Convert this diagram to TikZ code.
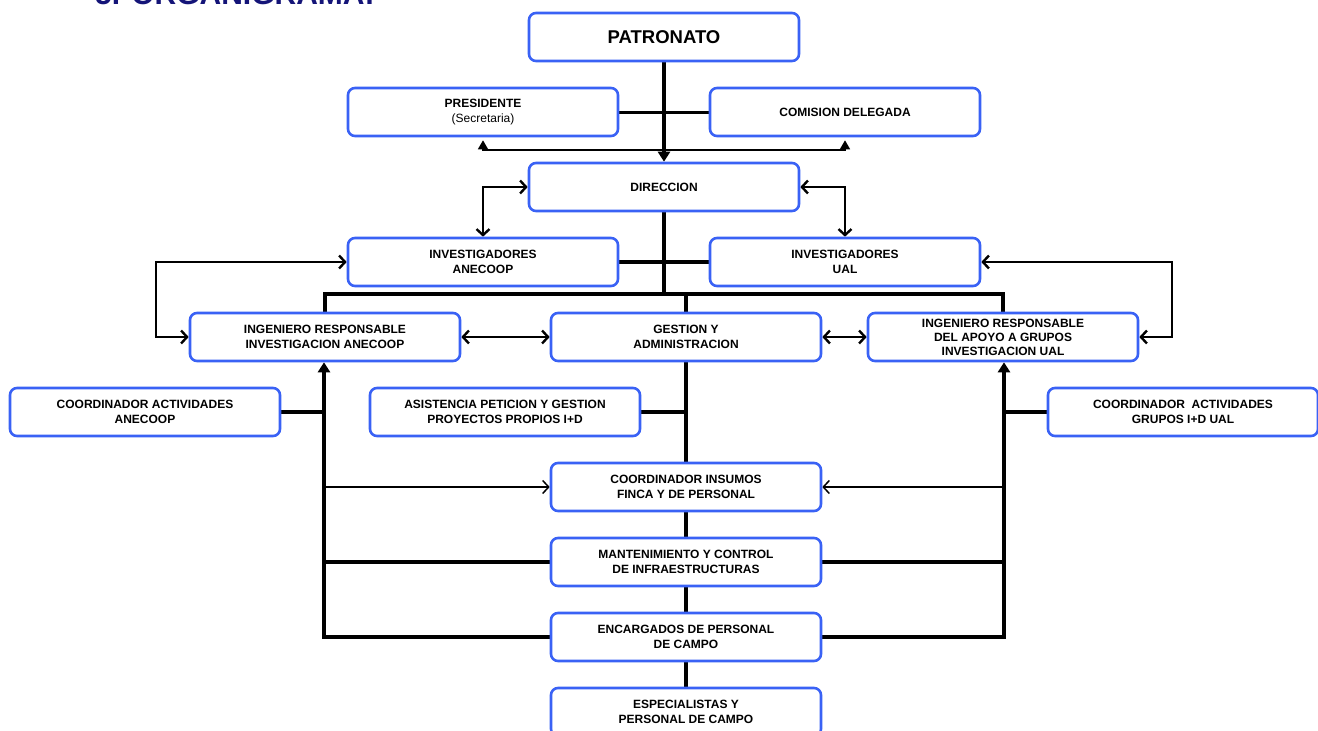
\documentclass[tikz,border=0pt]{standalone}
\usepackage{fontspec}
\setmainfont{Liberation Sans}
\usetikzlibrary{arrows.meta,calc,backgrounds}
\definecolor{boxblue}{RGB}{58,98,245}
\definecolor{titleblue}{RGB}{20,20,120}
\tikzset{
  box/.style={draw=boxblue, line width=2.6pt, rounded corners=7pt, fill=white,
    minimum width=270pt, minimum height=48pt, align=center, inner sep=2pt,
    font=\fontsize{12}{15.5}\selectfont\bfseries},
  thickline/.style={line width=4.5pt, black},
  medline/.style={line width=3pt, black},
  arrline/.style={line width=2.4pt, black},
  thinline/.style={line width=1.5pt, black},
  barb/.style={{Straight Barb[length=6pt,width=13pt]}-{Straight Barb[length=6pt,width=13pt]}},
  barbend/.style={-{Straight Barb[length=6pt,width=13pt]}},
  tri/.style={{Triangle[length=9pt,width=10pt]}-{Triangle[length=9pt,width=10pt]}},
  triend/.style={-{Triangle[length=10pt,width=12pt]}}
}
\begin{document}
\begin{tikzpicture}[x=1pt,y=-1pt]
\useasboundingbox (0,0) rectangle (1318,731);
\begin{scope}
\clip (0,0) rectangle (1318,731);
\node[anchor=base west, inner sep=0pt, text=titleblue, font=\fontsize{30}{34}\selectfont\bfseries] (title) at (95,4) {5. ORGANIGRAMA:};
\end{scope}

% junction coordinates
\coordinate (jb) at (664,294);
\coordinate (lL) at (156,300);
\coordinate (lR) at (1172,300);
\coordinate (bl) at (324,637);
\coordinate (br) at (1004,637);
\coordinate (pl) at (483,150);
\coordinate (pr) at (845,150);

% nodes
\node[box, font=\fontsize{18.5}{20}\selectfont\bfseries] (pat) at (664,37) {PATRONATO};
\node[box] (pres) at (483,112) {PRESIDENTE\\{\mdseries (Secretaria)}};
\node[box] (com) at (845,112) {COMISION DELEGADA};
\node[box] (dir) at (664,187) {DIRECCION};
\node[box] (invA) at (483,262) {INVESTIGADORES\\ANECOOP};
\node[box] (invU) at (845,262) {INVESTIGADORES\\UAL};
\node[box] (ingA) at (325,337) {INGENIERO RESPONSABLE\\INVESTIGACION ANECOOP};
\node[box] (ges) at (686,337) {GESTION Y\\ADMINISTRACION};
\node[box, font=\fontsize{12}{14}\selectfont\bfseries] (ingU) at (1003,337) {INGENIERO RESPONSABLE\\DEL APOYO A GRUPOS\\INVESTIGACION UAL};
\node[box] (coA) at (145,412) {COORDINADOR ACTIVIDADES\\ANECOOP};
\node[box] (asis) at (505,412) {ASISTENCIA PETICION Y GESTION\\PROYECTOS PROPIOS I+D};
\node[box] (coU) at (1183,412) {COORDINADOR\ \ ACTIVIDADES\\GRUPOS I+D UAL};
\node[box] (ins) at (686,487) {COORDINADOR INSUMOS\\FINCA Y DE PERSONAL};
\node[box] (mant) at (686,562) {MANTENIMIENTO Y CONTROL\\DE INFRAESTRUCTURAS};
\node[box] (enc) at (686,637) {ENCARGADOS DE PERSONAL\\DE CAMPO};
\node[box] (esp) at (686,712) {ESPECIALISTAS Y\\PERSONAL DE CAMPO};

% connectors (behind boxes)
\begin{scope}[on background layer]
  \draw[medline] (pres.east) -- (com.west);
  \draw[thinline, tri, shorten <=3pt, shorten >=3pt] (pres.south) -- (pl) -- (pr) -- (com.south);
  \draw[thickline, triend] (pat.south) -- (dir.north);
  \draw[arrline, barb] (dir.west) -| (invA.north);
  \draw[arrline, barb] (dir.east) -| (invU.north);
  \draw[thickline] (invA.east) -- (invU.west);
  \draw[thickline] (dir.south) -- (jb);
  \draw[thickline] (ingA.north) |- (jb) -| (ingU.north);
  \draw[thickline] (ges.north) -- (ges.north |- jb);
  \draw[arrline, barb] (ingA.east) -- (ges.west);
  \draw[arrline, barb] (ges.east) -- (ingU.west);
  \draw[arrline, barb] (invA.west) -| (lL) |- (ingA.west);
  \draw[arrline, barb] (invU.east) -| (lR) |- (ingU.east);
  \draw[thickline, triend] (bl) -- (bl |- ingA.south);
  \draw[thickline, triend] (br) -- (br |- ingU.south);
  \draw[thickline] (coA.east) -- (coA.east -| bl);
  \draw[thickline] (asis.east) -- (asis.east -| ges);
  \draw[thickline] (coU.west) -- (coU.west -| br);
  \draw[thickline] (ges.south) -- (esp.north);
  \draw[thinline, barbend] (ins.west -| bl) -- (ins.west);
  \draw[thinline, barbend] (ins.east -| br) -- (ins.east);
  \draw[thickline] (mant.west -| bl) -- (mant.west);
  \draw[thickline] (mant.east) -- (mant.east -| br);
  \draw[thickline, line cap=rect] (bl) -- (enc.west);
  \draw[thickline, line cap=rect] (enc.east) -- (br);
\end{scope}
\end{tikzpicture}
\end{document}
